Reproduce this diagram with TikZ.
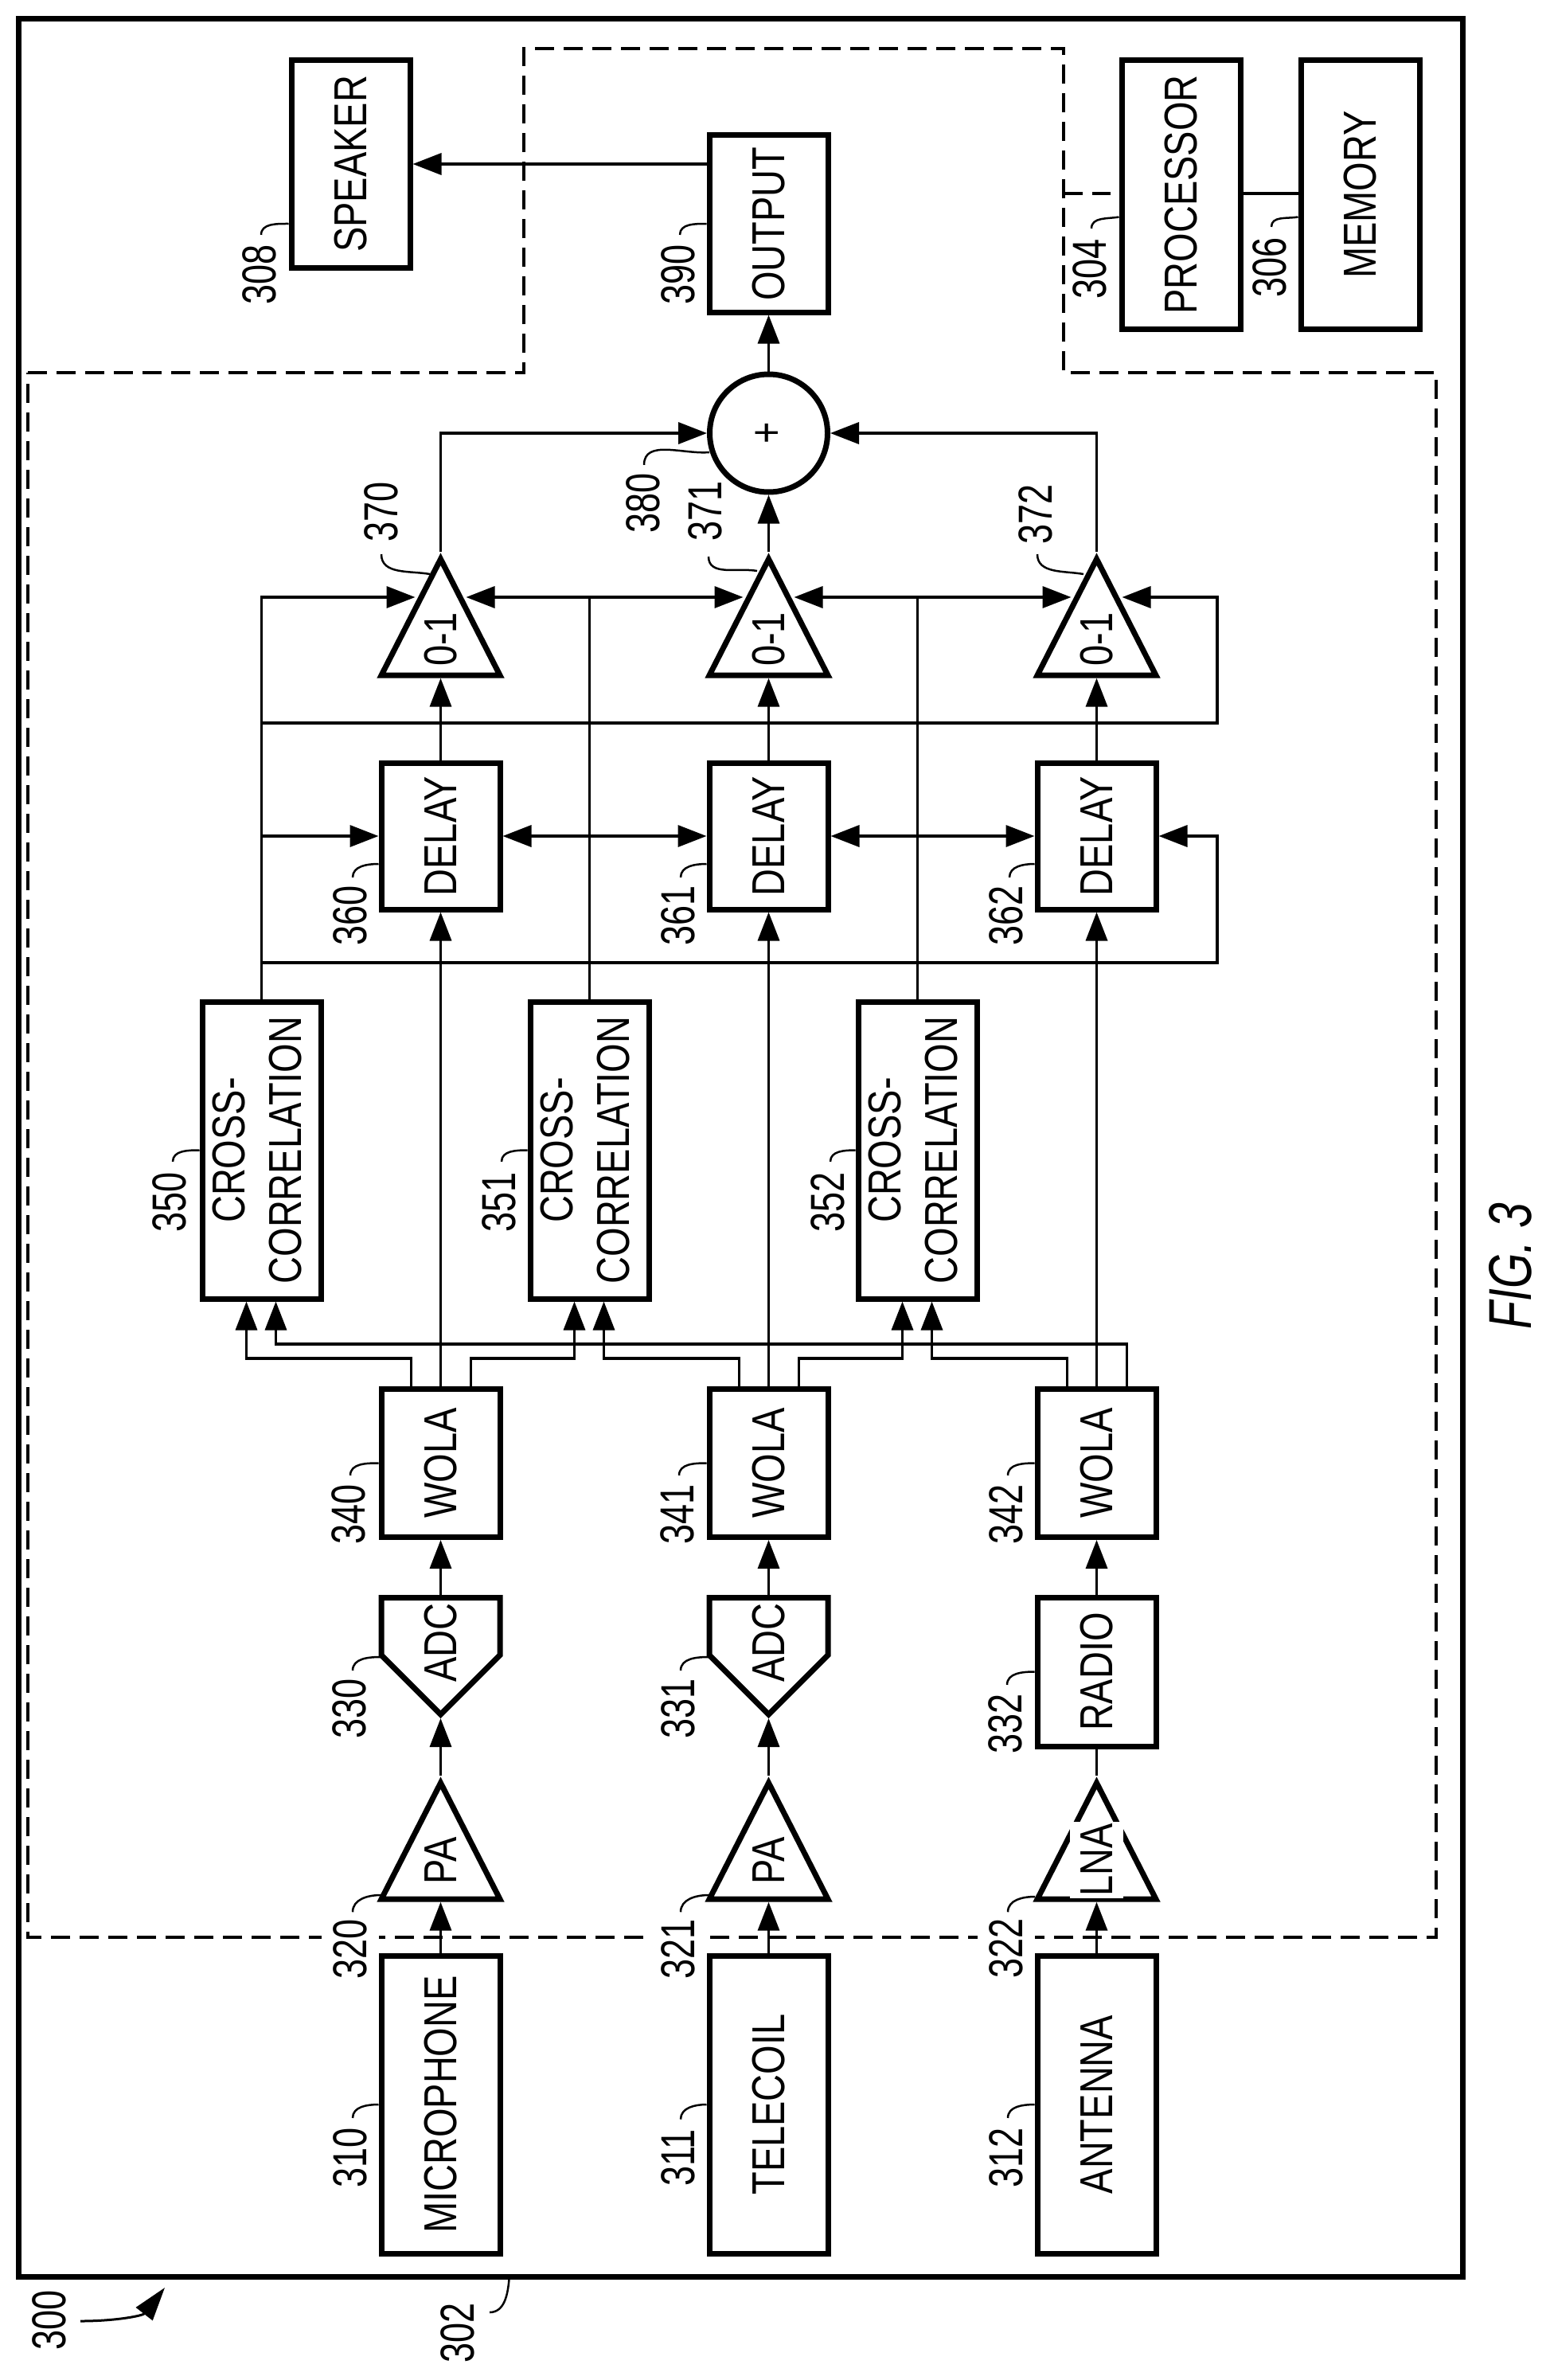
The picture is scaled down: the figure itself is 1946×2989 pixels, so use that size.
\documentclass[tikz,border=0pt]{standalone}
\usepackage{fontspec}
\setmainfont[FakeStretch=0.81]{Liberation Sans}
\newfontfamily\reffont[FakeStretch=0.75]{Liberation Sans}
\usepackage{graphicx}
\usetikzlibrary{arrows.meta,shapes.geometric,shapes.symbols}
\newcommand{\vt}[1]{\rotatebox{90}{#1}}
\newcommand{\reflabel}[1]{\rotatebox{90}{\reffont\fontsize{60}{60}\selectfont #1}}
\tikzset{
  every node/.style={font=\fontsize{58}{71}\selectfont},
  blockbox/.style={draw, line width=7pt, minimum width=149pt, inner sep=0pt},
  ampbox/.style={draw, line width=7pt, isosceles triangle, isosceles triangle stretches, shape border rotate=90, minimum width=149pt, minimum height=146pt, inner sep=0pt, anchor=apex},
  adcbox/.style={draw, line width=7pt, signal, signal to=south, signal pointer angle=90, minimum width=149pt, minimum height=72pt, inner sep=0pt},
  regionline/.style={line width=4.5pt, dash pattern=on 24pt off 12pt},
  wire/.style={line width=3.5pt},
  arr/.style={wire, -{Triangle[length=36pt,width=27pt]}},
  biarr/.style={wire, {Triangle[length=36pt,width=27pt]}-{Triangle[length=36pt,width=27pt]}},
  lead/.style={line width=2.5pt},
  whitelabel/.style={fill=white, inner sep=0pt, inner xsep=15pt}
}
\begin{document}
\begin{tikzpicture}[x=1pt, y=-1pt, node distance=412pt]
\useasboundingbox (0,0) rectangle (1946,2989);
\node [draw, line width=7pt, minimum width=1814pt, minimum height=2835.5pt] (frame) at (930.5,1441.25) {};
\draw [regionline] (35,468) -- (658,468) -- (658,61) -- (1336,61) -- (1336,468) -- (1804,468) -- (1804,2433) -- (35,2433) -- cycle;
% labels that break the dashed line
\node [whitelabel] (l320) at (440,2448) {\reflabel{320}};
\node [whitelabel] (l321) at (852,2448) {\reflabel{321}};
\node [whitelabel] (l322) at (1264,2447) {\reflabel{322}};
% inputs
\node [blockbox, minimum height=374pt] (mic) at (553.5,2643) {\vt{MICROPHONE}};
\node [blockbox, minimum height=374pt, right of=mic] (tel) {\vt{TELECOIL}};
\node [blockbox, minimum height=374pt, right of=tel] (ant) {\vt{ANTENNA}};
% preamps
\node [ampbox] (pa0) at (553.5,2230) {};
\node [ampbox] (pa1) at (965.5,2230) {};
\node [ampbox] (lna) at (1377.5,2230) {};
\node (tpa0) at (553.5,2337) {\vt{PA}};
\node (tpa1) at (965.5,2337) {\vt{PA}};
\node [fill=white, inner sep=0pt, inner xsep=14pt, inner ysep=2pt] (tlna) at (1377.5,2336) {\vt{LNA}};
% converters
\node [adcbox, anchor=south] (adc0) at (553.5,2158) {};
\node [adcbox, anchor=south] (adc1) at (965.5,2158) {};
\node (tadc0) at (553.5,2063) {\vt{ADC}};
\node (tadc1) at (965.5,2063) {\vt{ADC}};
\node [blockbox, minimum height=187pt] (radio) at (1377.5,2099.5) {\vt{RADIO}};
% filterbanks
\node [blockbox, minimum height=186pt] (w0) at (553.5,1837.5) {\vt{WOLA}};
\node [blockbox, minimum height=186pt, right of=w0] (w1) {\vt{WOLA}};
\node [blockbox, minimum height=186pt, right of=w1] (w2) {\vt{WOLA}};
\node [blockbox, minimum height=373pt] (cc0) at (328.5,1444.5) {\vt{\begin{tabular}{@{}c@{}}CROSS-\\CORRELATION\end{tabular}}};
\node [blockbox, minimum height=373pt, right of=cc0] (cc1) {\vt{\begin{tabular}{@{}c@{}}CROSS-\\CORRELATION\end{tabular}}};
\node [blockbox, minimum height=373pt, right of=cc1] (cc2) {\vt{\begin{tabular}{@{}c@{}}CROSS-\\CORRELATION\end{tabular}}};
\node [blockbox, minimum height=184pt] (d0) at (553.5,1050) {\vt{DELAY}};
\node [blockbox, minimum height=184pt, right of=d0] (d1) {\vt{DELAY}};
\node [blockbox, minimum height=184pt, right of=d1] (d2) {\vt{DELAY}};
% gains
\node [ampbox] (g0) at (553.5,693) {};
\node [ampbox] (g1) at (965.5,693) {};
\node [ampbox] (g2) at (1377.5,693) {};
\node (tg0) at (553.5,803) {\vt{0-1}};
\node (tg1) at (965.5,803) {\vt{0-1}};
\node (tg2) at (1377.5,803) {\vt{0-1}};
\coordinate (g0w) at (521.5,750);
\coordinate (g0e) at (585.5,750);
\coordinate (g1w) at (933.5,750);
\coordinate (g1e) at (997.5,750);
\coordinate (g2w) at (1345.5,750);
\coordinate (g2e) at (1409.5,750);
% output side
\node [draw, line width=7pt, circle, minimum size=148pt, inner sep=0pt] (sum) at (965.5,544) {\vt{+}};
\node [blockbox, minimum height=222pt] (out) at (965.5,281) {\vt{OUTPUT}};
\node [blockbox, minimum height=260pt] (spk) at (440.5,206) {\vt{SPEAKER}};
\node [blockbox, minimum height=337pt] (proc) at (1483.5,244.5) {\vt{PROCESSOR}};
\node [blockbox, minimum height=337pt, right of=proc, node distance=225pt] (mem) {\vt{MEMORY}};
% signal path
\draw [arr] (mic.north) -- (pa0.lower side);
\draw [arr] (tel.north) -- (pa1.lower side);
\draw [arr] (ant.north) -- (lna.lower side);
\draw [arr] (pa0.apex) -- (adc0.south);
\draw [arr] (pa1.apex) -- (adc1.south);
\draw [wire] (lna.apex) -- (radio.south);
\draw [arr] (adc0.north) -- (w0.south);
\draw [arr] (adc1.north) -- (w1.south);
\draw [arr] (radio.north) -- (w2.south);
\draw [arr] (w0.north) -- (d0.south);
\draw [arr] (w1.north) -- (d1.south);
\draw [arr] (w2.north) -- (d2.south);
\draw [arr] (d0.north) -- (g0.lower side);
\draw [arr] (d1.north) -- (g1.lower side);
\draw [arr] (d2.north) -- (g2.lower side);
\draw [arr] (g0.apex) |- (sum.west);
\draw [arr] (g1.apex) -- (sum.south);
\draw [arr] (g2.apex) |- (sum.east);
\draw [arr] (sum.north) -- (out.south);
\draw [arr] (out.west |- spk.east) -- (spk.east);
% filterbank outputs into the correlators
\draw [arr] ([xshift=-37pt]w0.north) -- ++(0,-35) -| ([xshift=-19pt]cc0.south);
\draw [arr] ([xshift=38pt]w0.north) -- ++(0,-35) -| ([xshift=-19pt]cc1.south);
\draw [arr] ([xshift=-37pt]w1.north) -- ++(0,-35) -| ([xshift=18pt]cc1.south);
\draw [arr] ([xshift=38pt]w1.north) -- ++(0,-35) -| ([xshift=-19pt]cc2.south);
\draw [arr] ([xshift=-37pt]w2.north) -- ++(0,-35) -| ([xshift=18pt]cc2.south);
\draw [arr] ([xshift=38pt]w2.north) -- ++(0,-53) -| ([xshift=18pt]cc0.south);
% control buses
\coordinate (busa) at (1529,1209);
\coordinate (busb) at (1529,908);
\draw [arr] (cc0.north) |- (g0w);
\draw [wire] (cc1.north) -- (cc1.north |- g1w);
\draw [wire] (cc2.north) -- (cc2.north |- g2w);
\draw [arr] (cc0.north |- d0.west) -- (d0.west);
\draw [biarr] (d0.east) -- (d1.west);
\draw [biarr] (d1.east) -- (d2.west);
\draw [arr] (cc0.north |- busa) -- (busa) |- (d2.east);
\draw [arr] (cc0.north |- busb) -- (busb) |- (g2e);
\draw [biarr] (g0e) -- (g1w);
\draw [biarr] (g1e) -- (g2w);
% processor and memory
\draw [wire] (proc.east |- 0,243) -- (mem.west |- 0,243);
\draw [regionline] (1336,243) -- (1395,243);
% reference numbers
\node (l300) at (62,2914) {\reflabel{300}};
\node (l302) at (575,2930) {\reflabel{302}};
\node (l304) at (1369,338) {\reflabel{304}};
\node (l306) at (1595,336) {\reflabel{306}};
\node (l308) at (326,345) {\reflabel{308}};
\node (l310) at (440,2710) {\reflabel{310}};
\node (l311) at (852,2710) {\reflabel{311}};
\node (l312) at (1264,2710) {\reflabel{312}};
\node (l330) at (439,2146) {\reflabel{330}};
\node (l331) at (852,2146) {\reflabel{331}};
\node (l332) at (1263,2165) {\reflabel{332}};
\node (l340) at (438,1902) {\reflabel{340}};
\node (l341) at (851,1902) {\reflabel{341}};
\node (l342) at (1264,1902) {\reflabel{342}};
\node (l350) at (213,1510) {\reflabel{350}};
\node (l351) at (627,1510) {\reflabel{351}};
\node (l352) at (1040,1510) {\reflabel{352}};
\node (l360) at (440,1150) {\reflabel{360}};
\node (l361) at (852,1150) {\reflabel{361}};
\node (l362) at (1264,1150) {\reflabel{362}};
\node (l370) at (479,643) {\reflabel{370}};
\node (l371) at (886,642) {\reflabel{371}};
\node (l372) at (1301,646) {\reflabel{372}};
\node (l380) at (808,632) {\reflabel{380}};
\node (l390) at (852,345) {\reflabel{390}};
\node (fig) at (1897,1590) {\rotatebox{90}{\reffont\itshape\fontsize{76}{76}\selectfont FIG. 3}};
% leader lines
\coordinate (p300) at (207,2873);
\draw [line width=3pt, -{Triangle[length=42pt,width=26pt]}] (101,2915) to [out=0, in=232] (p300);
\draw [lead] (615,2904) to [out=0, in=-95] ([xshift=-291pt]frame.south);
\draw [lead] (l304.north) ++(2,-10) to [out=90, in=190] ([yshift=-28pt]proc.west);
\draw [lead] (l306.north) ++(2,-10) to [out=90, in=190] ([yshift=-28pt]mem.west);
\draw [lead] (l308.north) ++(2,-9) to [out=90, in=180] ([yshift=-75pt]spk.west);
\draw [lead] (l390.north) ++(2,-9) to [out=90, in=180] (out.west);
\draw [lead] (l310.north) ++(3,-9) to [out=90, in=180] (mic.west);
\draw [lead] (l311.north) ++(3,-9) to [out=90, in=180] (tel.west);
\draw [lead] (l312.north) ++(2,-9) to [out=90, in=180] (ant.west);
\draw [lead] (l320.north) ++(3,-9) to [out=90, in=180] (478,2380);
\draw [lead] (l321.north) ++(3,-9) to [out=90, in=180] (890,2380);
\draw [lead] (l322.north) ++(2,-8) to [out=90, in=180] (1300,2382);
\draw [lead] (l330.north) ++(4,-7) to [out=90, in=180] (478,2081);
\draw [lead] (l331.north) ++(3,-7) to [out=90, in=180] (890,2081);
\draw [lead] (l332.north) ++(2,-8) to [out=90, in=180] (radio.west);
\draw [lead] (l340.north) ++(2,-8) to [out=90, in=180] (w0.west);
\draw [lead] (l341.north) ++(2,-8) to [out=90, in=180] (w1.west);
\draw [lead] (l342.north) ++(2,-8) to [out=90, in=180] (w2.west);
\draw [lead] (l350.north) ++(4,-10) to [out=90, in=180] (cc0.west);
\draw [lead] (l351.north) ++(3,-10) to [out=90, in=180] (cc1.west);
\draw [lead] (l352.north) ++(3,-10) to [out=90, in=180] (cc2.west);
\draw [lead] (l360.north) ++(3,-7) to [out=90, in=180] ([yshift=-35pt]d0.west);
\draw [lead] (l361.north) ++(3,-7) to [out=90, in=180] ([yshift=-35pt]d1.west);
\draw [lead] (l362.north) ++(4,-7) to [out=90, in=180] ([yshift=-35pt]d2.west);
\draw [lead] (l370.south) ++(0,12) to [out=-90, in=170] (540,721);
\draw [lead] (l371.south) ++(4,16) to [out=-90, in=170] (951,717);
\draw [lead] (l372.south) ++(2,9) to [out=-90, in=170] (1361,721);
\draw [lead] (l380.north) ++(1,-7) to [out=90, in=185] (891,568);
\end{tikzpicture}
\end{document}
